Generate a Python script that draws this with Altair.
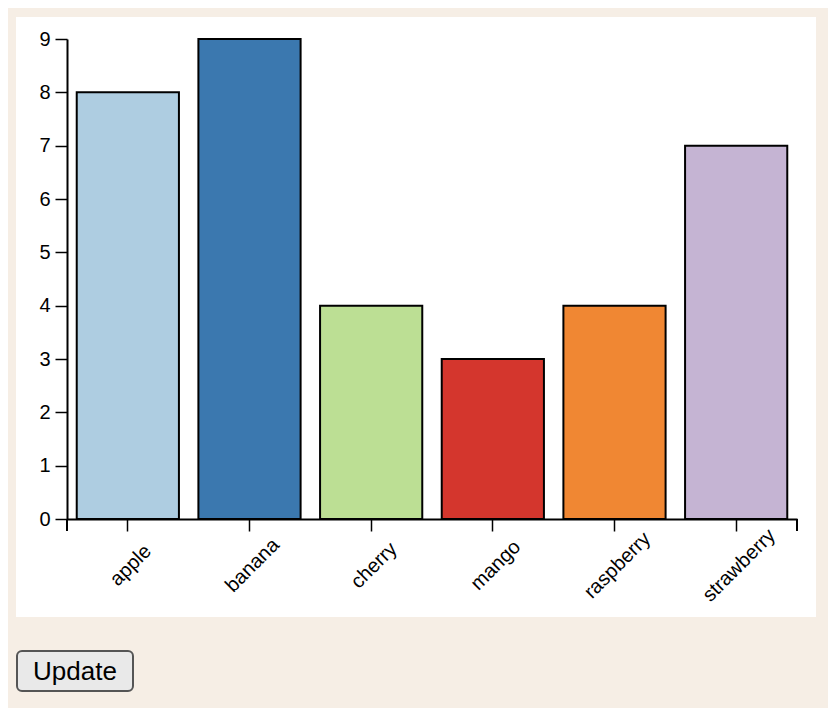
import altair as alt
import pandas as pd

fruits = ["apple", "banana", "cherry", "mango", "raspberry", "strawberry"]
counts = [8, 9, 4, 3, 4, 7]
colors = ["#aecde1", "#3b78af", "#bcdf94", "#d4362d", "#f08733", "#c5b4d3"]
y_ticks = [0, 1, 2, 3, 4, 5, 6, 7, 8, 9]
button_label = ["Update"]

df = pd.DataFrame({"fruit": fruits, "count": counts})
one = pd.DataFrame({"label": button_label})

W, H = 730, 480

panel = alt.Chart(one).mark_rect(color="white").encode(
    x=alt.value(-51), x2=alt.value(749), y=alt.value(-22), y2=alt.value(578)
)

bars = alt.Chart(df).mark_bar(stroke="black", strokeWidth=2).encode(
    x=alt.X(
        "fruit:N",
        sort=fruits,
        scale=alt.Scale(paddingInner=0.16, paddingOuter=0.08),
        axis=alt.Axis(
            title=None,
            labelAngle=-45,
            labelAlign="center",
            labelBaseline="middle",
            labelPadding=34,
            labelOffset=3,
            labelFontSize=20,
            labelFont="Liberation Sans",
            labelColor="black",
            tickSize=12,
            tickWidth=1.5,
            tickColor="black",
            domainWidth=2,
            domainColor="black",
            zindex=1,
        ),
    ),
    y=alt.Y(
        "count:Q",
        scale=alt.Scale(domain=[0, 9], nice=False),
        axis=alt.Axis(
            title=None,
            values=y_ticks,
            grid=False,
            labelFontSize=20,
            labelFont="Liberation Sans",
            labelColor="black",
            labelPadding=5,
            tickSize=12,
            tickWidth=1.5,
            tickColor="black",
            domainWidth=2,
            domainColor="black",
            zindex=1,
        ),
    ),
    color=alt.Color("fruit:N", scale=alt.Scale(domain=fruits, range=colors), legend=None),
)

outer_left = alt.Chart(one).mark_rule(color="black", strokeWidth=2).encode(
    x=alt.value(0), y=alt.value(H), y2=alt.value(H + 12)
)
outer_right = alt.Chart(one).mark_rule(color="black", strokeWidth=2).encode(
    x=alt.value(W), y=alt.value(H), y2=alt.value(H + 12)
)

button = alt.Chart(one).mark_rect(
    fill="#e9e9e9", stroke="#555555", strokeWidth=2, cornerRadius=5
).encode(
    x=alt.value(-50), x2=alt.value(66), y=alt.value(612), y2=alt.value(652)
)
button_text = alt.Chart(one).mark_text(
    font="Liberation Sans", fontSize=26, color="black", align="center", baseline="alphabetic"
).encode(
    x=alt.value(8), y=alt.value(641), text="label:N"
)

chart = alt.layer(panel, bars, outer_left, outer_right, button, button_text).properties(
    width=W,
    height=H,
    background="#f6eee5",
    padding={"left": 59, "top": 31, "right": 31, "bottom": 189},
    autosize=alt.AutoSizeParams(type="none"),
).configure_view(stroke=None)

chart.save("out.html", embed_options={"renderer": "svg", "actions": False})
